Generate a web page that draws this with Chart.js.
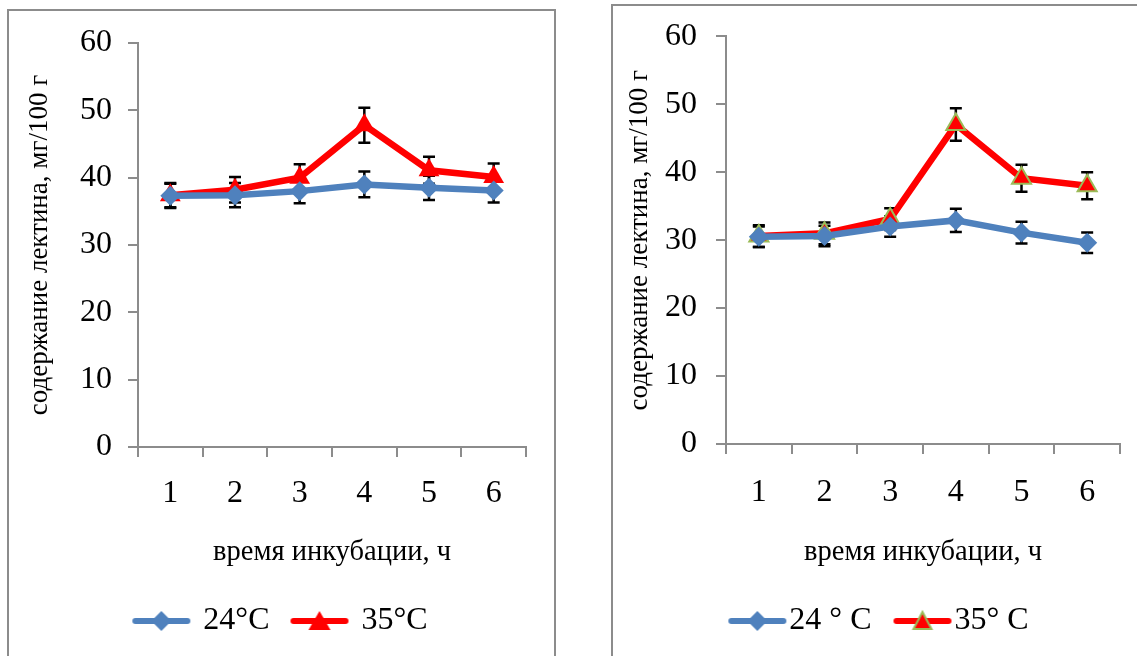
<!DOCTYPE html>
<html>
<head>
  <title>Lectin content</title>
  <script src="https://cdn.jsdelivr.net/npm/chart.js@4.4.0/dist/chart.umd.min.js"></script>
  <style>
    body { margin: 0; background: #fff; width: 1137px; height: 656px; overflow: hidden; position: relative; }
    .frame { position: absolute; border: 2px solid #8c8c8c; background: #fff; }
    #frameLeft { left: 7px; top: 9px; width: 545px; height: 660px; }
    #frameRight { left: 611px; top: 4px; width: 560px; height: 660px; }
    .frame canvas { position: absolute; left: 0; top: 0; }
  </style>
</head>
<body>
  <div class="frame" id="frameLeft"><canvas id="chartLeft" width="545" height="645"></canvas></div>
  <div class="frame" id="frameRight"><canvas id="chartRight" width="544" height="650"></canvas></div>

  <script>
    // values
    var hours = ["1", "2", "3", "4", "5", "6"];
    var yTicks = [0, 10, 20, 30, 40, 50, 60];

    var left24 = [37.3, 37.4, 38.0, 39.0, 38.5, 38.1];
    var left24Err = [1.8, 1.8, 1.8, 1.9, 1.8, 1.8];
    var left35 = [37.4, 38.2, 40.0, 47.8, 41.1, 40.1];
    var left35Err = [1.8, 1.9, 2.0, 2.6, 2.0, 2.0];

    var right24 = [30.5, 30.6, 32.0, 32.9, 31.1, 29.6];
    var right24Err = [1.5, 1.5, 1.5, 1.7, 1.6, 1.5];
    var right35 = [30.6, 31.0, 33.1, 47.0, 39.1, 38.0];
    var right35Err = [1.6, 1.6, 1.6, 2.4, 2.0, 2.0];

    var blue = "#4f81bd";
    var red = "#ff0000";
    var olive = "#9bbb59";
    var serif = "'Liberation Serif', 'Times New Roman', serif";

    // draws the +/- error bars using the chart's own scales
    var errorBars = {
      id: "errorBars",
      beforeDatasetsDraw: function(chart) {
        var ctx = chart.ctx;
        var yScale = chart.scales.y;
        ctx.save();
        ctx.strokeStyle = "#000";
        ctx.lineWidth = 2.5;
        chart.data.datasets.forEach(function(ds, i) {
          var meta = chart.getDatasetMeta(i);
          meta.data.forEach(function(pt, j) {
            var v = ds.data[j], e = ds.errors[j];
            var top = yScale.getPixelForValue(v + e);
            var bottom = yScale.getPixelForValue(v - e);
            var x = pt.x;
            ctx.beginPath();
            ctx.moveTo(x, top); ctx.lineTo(x, bottom);
            ctx.moveTo(x - 6, top); ctx.lineTo(x + 6, top);
            ctx.moveTo(x - 6, bottom); ctx.lineTo(x + 6, bottom);
            ctx.stroke();
          });
        });
        ctx.restore();
      }
    };

    // small canvases for legend: line with marker
    function legendIcon(color, shape, border) {
      var c = document.createElement("canvas");
      c.width = 60; c.height = 24;
      var g = c.getContext("2d");
      g.strokeStyle = color;
      g.lineWidth = 6;
      g.lineCap = "round";
      g.beginPath(); g.moveTo(4, 12); g.lineTo(56, 12); g.stroke();
      g.fillStyle = color;
      g.beginPath();
      if (shape === "diamond") {
        g.moveTo(30, 2); g.lineTo(40, 12); g.lineTo(30, 22); g.lineTo(20, 12);
      } else if (border) {
        g.moveTo(30, 3); g.lineTo(39, 20); g.lineTo(21, 20);
      } else {
        g.moveTo(30, 2); g.lineTo(41, 21); g.lineTo(19, 21);
      }
      g.closePath();
      g.fill();
      if (border) { g.strokeStyle = border; g.lineWidth = 2; g.stroke(); }
      return c;
    }

    function makeChart(id, opts) {
      var ctx = document.getElementById(id).getContext("2d");
      var icons = [legendIcon(blue, "diamond"), legendIcon(red, "triangle", opts.triBorder)];
      return new Chart(ctx, {
        type: "line",
        data: {
          labels: hours,
          datasets: [{
            label: opts.labels[0],
            data: opts.s24,
            errors: opts.e24,
            borderColor: blue,
            backgroundColor: blue,
            borderWidth: 6.5,
            pointStyle: "rectRot",
            pointRadius: 10,
            pointBorderWidth: 0,
            tension: 0
          }, {
            label: opts.labels[1],
            data: opts.s35,
            errors: opts.e35,
            borderColor: red,
            backgroundColor: red,
            borderWidth: 6.5,
            pointStyle: "triangle",
            pointRadius: opts.triBorder ? 11 : 12,
            pointBorderColor: opts.triBorder || red,
            pointBorderWidth: opts.triBorder ? 2 : 0,
            tension: 0
          }]
        },
        options: {
          responsive: false,
          animation: false,
          layout: { padding: opts.padding },
          plugins: {
            tooltip: { enabled: false },
            legend: {
              position: "bottom",
              labels: {
                font: { family: serif, size: 32 },
                color: "#000",
                usePointStyle: true,
                pointStyleWidth: opts.iconWidth,
                padding: opts.legendGap,
                generateLabels: function(chart) {
                  return chart.data.datasets.map(function(ds, i) {
                    return { text: ds.label, pointStyle: icons[i], datasetIndex: i, lineWidth: 0, fontColor: "#000" };
                  });
                }
              }
            }
          },
          scales: {
            x: {
              offset: true,
              grid: { offset: true, drawOnChartArea: false, color: "#8c8c8c", lineWidth: 2, tickLength: 10 },
              border: { color: "#8c8c8c", width: 2 },
              ticks: { font: { family: serif, size: 32 }, color: "#000", padding: opts.xPad },
              title: {
                display: true,
                text: "время инкубации, ч",
                font: { family: serif, size: 28.5 },
                color: "#000",
                padding: { top: 0, bottom: opts.xTitlePad }
              },
              afterFit: function(scale) { scale.height = opts.xHeight; }
            },
            y: {
              min: 0,
              max: 60,
              afterBuildTicks: function(scale) {
                scale.ticks = yTicks.map(function(v) { return { value: v }; });
              },
              grid: { drawOnChartArea: false, color: "#8c8c8c", lineWidth: 2, tickLength: 10 },
              border: { color: "#8c8c8c", width: 2 },
              ticks: { font: { family: serif, size: 32, lineHeight: 0.7 }, color: "#000", padding: opts.yPad },
              title: {
                display: true,
                text: "содержание лектина, мг/100 г",
                font: { family: serif, size: 27 },
                color: "#000",
                padding: { top: opts.titlePad, bottom: 0 }
              },
              afterFit: function(scale) { scale.width = opts.yWidth; }
            },
            // empty right-hand space, keeps the legend centred on the whole frame
            side: {
              position: "right",
              grid: { display: false },
              border: { display: false },
              ticks: { display: false },
              afterFit: function(scale) { scale.width = opts.sideWidth; }
            }
          }
        },
        plugins: [errorBars]
      });
    }

    makeChart("chartLeft", {
      labels: ["24°C", "35°C"],
      s24: left24, e24: left24Err, s35: left35, e35: left35Err,
      padding: { left: 0, right: 0, top: 32, bottom: 9 },
      yWidth: 129,
      sideWidth: 28,
      yPad: 16,
      titlePad: 15,
      xHeight: 134,
      xPad: 17,
      xTitlePad: 11,
      iconWidth: 52,
      legendGap: 24
    });

    makeChart("chartRight", {
      labels: ["24 ° C", "35° C"],
      s24: right24, e24: right24Err, s35: right35, e35: right35Err,
      triBorder: olive,
      padding: { left: 0, right: 0, top: 30, bottom: 9 },
      yWidth: 113,
      sideWidth: 37,
      yPad: 19,
      titlePad: 11,
      xHeight: 126,
      xPad: 19,
      xTitlePad: 0,
      iconWidth: 32,
      legendGap: 35
    });
  </script>
</body>
</html>
